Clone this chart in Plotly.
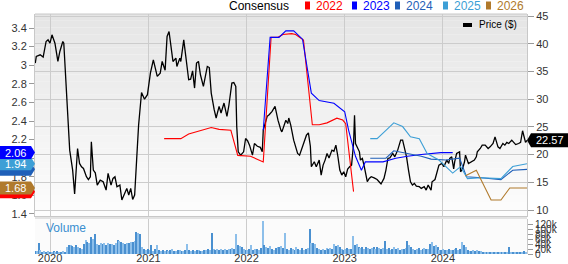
import pandas as pd
import plotly.graph_objects as go

# ---------------- data ----------------
price_t = [2019.85, 2019.86, 2019.90, 2019.93, 2019.96, 2019.98, 2020.00, 2020.02, 2020.05, 2020.08,
           2020.10, 2020.13, 2020.14, 2020.17, 2020.19, 2020.20, 2020.23, 2020.25, 2020.28, 2020.30,
           2020.32, 2020.34, 2020.37, 2020.39, 2020.41, 2020.42, 2020.44, 2020.46, 2020.48, 2020.51,
           2020.54, 2020.57, 2020.59, 2020.62, 2020.64, 2020.66, 2020.68, 2020.71, 2020.73, 2020.76,
           2020.78, 2020.80, 2020.82, 2020.84, 2020.86, 2020.88, 2020.90, 2020.93, 2020.96, 2020.99,
           2021.02, 2021.05, 2021.09, 2021.12, 2021.14, 2021.17, 2021.19, 2021.21, 2021.23, 2021.25,
           2021.28, 2021.29, 2021.32, 2021.33, 2021.36, 2021.38, 2021.41, 2021.43, 2021.45, 2021.47,
           2021.49, 2021.51, 2021.53, 2021.56, 2021.60, 2021.62, 2021.64, 2021.67, 2021.69, 2021.72,
           2021.74, 2021.77, 2021.80, 2021.82, 2021.85, 2021.87, 2021.89, 2021.90, 2021.915, 2021.94,
           2021.97, 2021.99, 2022.01, 2022.03, 2022.06, 2022.08, 2022.11, 2022.14, 2022.16, 2022.17,
           2022.21, 2022.23, 2022.26, 2022.29, 2022.31, 2022.32, 2022.35, 2022.36, 2022.40, 2022.42,
           2022.43, 2022.45, 2022.48, 2022.50, 2022.52, 2022.54, 2022.57, 2022.59, 2022.61, 2022.63,
           2022.65, 2022.66, 2022.69, 2022.71, 2022.74, 2022.76, 2022.78, 2022.80, 2022.82, 2022.84,
           2022.87, 2022.89, 2022.91, 2022.93, 2022.95, 2022.97, 2022.99, 2023.01, 2023.03, 2023.05,
           2023.07, 2023.09, 2023.10, 2023.11, 2023.13, 2023.15, 2023.16, 2023.18, 2023.20, 2023.21,
           2023.23, 2023.25, 2023.27, 2023.30, 2023.33, 2023.35, 2023.37, 2023.40, 2023.42, 2023.44,
           2023.46, 2023.49, 2023.51, 2023.54, 2023.57, 2023.59, 2023.61, 2023.63, 2023.65, 2023.66,
           2023.67, 2023.69, 2023.71, 2023.73, 2023.76, 2023.78, 2023.81, 2023.83, 2023.85, 2023.88,
           2023.89, 2023.92, 2023.94, 2023.96, 2023.99, 2024.01, 2024.04, 2024.06, 2024.07, 2024.09,
           2024.11, 2024.12, 2024.14, 2024.17, 2024.18, 2024.20, 2024.22, 2024.23, 2024.26, 2024.29,
           2024.32, 2024.34, 2024.35, 2024.38, 2024.40, 2024.43, 2024.46, 2024.48, 2024.51, 2024.53,
           2024.56, 2024.58, 2024.61, 2024.63, 2024.65, 2024.67, 2024.70, 2024.72, 2024.74, 2024.77,
           2024.79, 2024.81, 2024.84, 2024.855]
price_v = [36.5, 37.7, 38.0, 37.6, 40.4, 40.7, 40.1, 41.6, 40.1, 36.8,
           38.6, 40.4, 40.1, 29.9, 25.3, 20.8, 17.2, 12.9, 21.1, 18.4,
           17.8, 17.5, 16.0, 15.5, 16.0, 22.3, 17.2, 16.7, 14.5, 15.4,
           15.1, 13.6, 16.6, 14.5, 15.7, 16.0, 14.2, 14.5, 11.8, 13.3,
           13.9, 12.7, 13.9, 11.9, 12.7, 19.0, 25.3, 31.2, 30.0, 30.8,
           34.7, 37.1, 34.1, 34.7, 36.8, 35.2, 41.3, 42.2, 38.9, 36.8,
           37.4, 35.9, 37.4, 36.8, 40.7, 37.8, 33.5, 33.6, 35.1, 32.0,
           36.5, 36.8, 34.4, 32.3, 35.9, 35.7, 31.1, 28.1, 26.6, 28.7,
           27.5, 29.3, 26.9, 28.9, 32.9, 33.0, 32.3, 25.0, 20.5, 19.9,
           20.5, 22.9, 22.5, 21.7, 19.9, 22.0, 21.5, 21.3, 20.5, 24.4,
           26.9, 27.2, 27.8, 28.7, 26.9, 26.2, 24.4, 24.1, 26.2, 25.6,
           26.6, 25.3, 22.6, 21.4, 20.2, 19.9, 21.4, 22.6, 23.5, 23.9,
           21.5, 17.8, 18.7, 17.8, 19.0, 16.3, 18.1, 19.0, 20.2, 19.4,
           20.8, 20.6, 21.7, 19.7, 17.2, 16.3, 16.9, 16.0, 17.4, 17.8,
           18.1, 22.0, 27.1, 22.0, 21.3, 20.5, 19.0, 19.3, 17.8, 17.0,
           15.1, 15.7, 16.0, 15.8, 15.5, 15.1, 14.7, 15.7, 17.2, 19.3,
           19.4, 20.2, 19.6, 20.8, 22.6, 22.6, 21.1, 19.6, 17.2, 15.7,
           15.1, 14.5, 14.8, 14.3, 14.2, 13.9, 14.2, 13.6, 14.5, 13.6,
           15.1, 15.5, 16.6, 18.1, 18.4, 17.8, 19.0, 18.4, 19.3, 19.6,
           17.4, 18.7, 20.2, 20.5, 16.9, 17.4, 18.7, 19.9, 18.4, 18.7,
           19.0, 19.6, 20.5, 21.1, 21.7, 21.7, 21.1, 21.4, 22.0, 23.2,
           21.4, 21.1, 22.0, 21.7, 22.2, 22.0, 22.6, 22.2, 21.8, 22.0,
           22.2, 24.3, 22.2, 22.57]

cons_2022_t = [2021.16, 2021.33, 2021.41, 2021.53, 2021.64, 2021.72, 2021.84, 2021.91, 2022.04, 2022.17,
               2022.25, 2022.32, 2022.37, 2022.46, 2022.50, 2022.58, 2022.67, 2022.74, 2022.82, 2022.92,
               2022.98, 2023.01, 2023.08, 2023.09]
cons_2022_v = [2.21, 2.21, 2.26, 2.30, 2.33, 2.31, 2.30, 2.03, 2.02, 1.96,
               3.30, 3.30, 3.33, 3.34, 3.33, 3.27, 2.36, 2.36, 2.38, 2.43,
               2.41, 2.37, 1.77, 1.64]
cons_2023_t = [2022.17, 2022.24, 2022.33, 2022.40, 2022.48, 2022.57, 2022.66, 2022.74, 2022.89, 2023.00,
               2023.04, 2023.11, 2023.17, 2023.21, 2023.39, 2023.52, 2023.64, 2023.78, 2023.98, 2024.10]
cons_2023_v = [2.30, 3.30, 3.30, 3.37, 3.37, 3.28, 2.70, 2.62, 2.59, 2.50,
               2.30, 2.02, 1.87, 1.96, 1.96, 2.00, 2.02, 2.04, 2.06, 2.06]
cons_2024_t = [2023.26, 2023.42, 2023.50, 2023.64, 2023.78, 2023.88, 2024.03, 2024.17, 2024.24, 2024.39,
               2024.59, 2024.71, 2024.855]
cons_2024_v = [2.00, 2.00, 2.08, 2.05, 2.02, 1.99, 1.98, 2.00, 1.80, 1.79,
               1.77, 1.87, 1.88]
cons_2025_t = [2023.26, 2023.33, 2023.42, 2023.50, 2023.59, 2023.67, 2023.76, 2023.84, 2023.96, 2024.10,
               2024.18, 2024.25, 2024.39, 2024.59, 2024.71, 2024.855]
cons_2025_v = [2.21, 2.21, 2.30, 2.38, 2.34, 2.23, 2.21, 2.05, 1.98, 1.84,
               1.91, 1.78, 1.79, 1.78, 1.91, 1.94]
cons_2026_t = [2024.23, 2024.34, 2024.49, 2024.59, 2024.68, 2024.855]
cons_2026_v = [1.81, 1.87, 1.55, 1.55, 1.68, 1.68]

volume_start = "2019-11-06"
volume_k = [14, 12, 45, 15, 10, 12, 9, 11,
            10, 8, 14, 9, 12, 10, 8, 11, 9,
            30, 35, 37, 32,
            28, 36, 30, 25, 22, 40,
            55, 50, 45, 68, 60, 79,
            42, 38, 45, 40, 44, 38, 45, 42, 40, 36, 44,
            55, 52, 48,
            45, 40, 46, 44, 50, 48, 52,
            88, 85, 79,
            28, 22, 18, 20,
            15, 38, 14, 20, 37, 16, 14, 18, 12, 15, 13, 16, 20, 14, 12, 15, 18, 14, 12, 16,
            41,
            18, 14, 16, 12, 15, 17, 14, 13, 16, 15, 20, 18,
            86,
            22, 18, 20, 16, 21, 18, 19, 17, 22, 20, 24, 20,
            79,
            38, 32, 28,
            20, 18, 16, 22, 35, 18, 20, 22, 17, 24,
            132,
            38, 28, 24, 32, 20, 18, 26, 30, 28, 33, 25,
            85,
            22, 18, 25, 20, 15, 30, 22, 18, 24, 16, 20, 26,
            100,
            45, 44, 40,
            25, 20, 18, 22, 16, 24, 20, 26, 22,
            41,
            32, 35, 28, 22, 18, 20, 24, 22, 20,
            72,
            35, 40, 30, 25, 28, 22, 30, 26, 20, 24, 28, 22, 30, 25, 20, 24,
            52,
            20, 25, 18, 22, 28, 20, 24, 18, 22, 20, 26,
            52,
            35, 30, 20, 18, 22, 23, 17, 20, 24, 22, 20,
            41, 48,
            32, 38, 30, 18, 15, 20, 17, 16, 20, 18, 15, 22, 25, 18, 20,
            48,
            35, 30, 15, 12, 14, 16, 13, 15, 12, 14,
            7, 8, 6, 7, 8, 7, 6, 9, 7, 8, 6, 7, 8, 7,
            27,
            9, 8, 10, 8, 9, 10, 8, 12, 10]

left_ticks = [1.4, 1.6, 1.8, 2.0, 2.2, 2.4, 2.6, 2.8, 3.0, 3.2, 3.4]
left_tick_text = ["1.4", "1.6", "1.8", "2", "2.2", "2.4", "2.6", "2.8", "3", "3.2", "3.4"]
right_ticks = [10, 15, 20, 25, 30, 35, 40, 45]
vol_ticks = [0, 20000, 40000, 60000, 80000, 100000, 120000]
vol_tick_text = ["0", "20k", "40k", "60k", "80k", "100k", "120k"]
years = ["2022", "2023", "2024", "2025", "2026"]
colors = {"2022": "#ff0000", "2023": "#0000ff", "2024": "#1f5fb8",
          "2025": "#3d9fd6", "2026": "#b07a2c"}

# ---------------- helpers ----------------
def dy(t):
    y = int(t)
    a = pd.Timestamp(year=y, month=1, day=1)
    b = pd.Timestamp(year=y + 1, month=1, day=1)
    return a + (b - a) * (t - y)

def dates(ts):
    return [dy(t) for t in ts]

W, H = 568, 264
L, R, T, B = 35, 41, 14, 10
PW, PH = W - L - R, H - T - B
def px(x):  # pixel -> paper x
    return (x - L) / PW
def py(y):  # pixel -> paper y
    return (H - B - y) / PH

price_bottom_px = 216
vol_top_px = 219
dom_price = [py(price_bottom_px), 1]
dom_vol = [0, py(vol_top_px)]

fig = go.Figure()

# price line (right axis)
fig.add_trace(go.Scatter(x=dates(price_t), y=price_v, mode="lines",
                         line=dict(color="#000000", width=1.3),
                         xaxis="x", yaxis="y", showlegend=False))

cons = {"2022": (cons_2022_t, cons_2022_v), "2023": (cons_2023_t, cons_2023_v),
        "2024": (cons_2024_t, cons_2024_v), "2025": (cons_2025_t, cons_2025_v),
        "2026": (cons_2026_t, cons_2026_v)}
for yr in years:
    t, v = cons[yr]
    fig.add_trace(go.Scatter(x=dates(t), y=v, mode="lines",
                             line=dict(color=colors[yr], width=1.1),
                             xaxis="x", yaxis="y2", showlegend=False))

vol_dates = pd.date_range(volume_start, periods=len(volume_k), freq="7D")
bar_colors = ["#8dbfea" if i % 2 else "#4a90d0" for i in range(len(volume_k))]
fig.add_trace(go.Bar(x=vol_dates, y=[v * 1000 for v in volume_k],
                     marker=dict(color=bar_colors, line=dict(width=0)),
                     width=5 * 24 * 3600 * 1000,
                     xaxis="x2", yaxis="y3", showlegend=False))

x_range = [dy(2019.847), dy(2024.855)]
grid = "#cccccc"
font = "Liberation Sans, Arial, sans-serif"

shapes = []
# gradient background for the price pane
n = 30
top_c, bot_c = 229, 253
for i in range(n):
    y0 = dom_price[0] + (dom_price[1] - dom_price[0]) * i / n
    y1 = dom_price[0] + (dom_price[1] - dom_price[0]) * (i + 1) / n
    c = int(round(bot_c + (top_c - bot_c) * (i + 0.5) / n))
    shapes.append(dict(type="rect", xref="paper", yref="paper", x0=0, x1=1, y0=y0, y1=y1,
                       fillcolor=f"rgb({c},{c},{c})", line=dict(width=0), layer="below"))
# volume pane background
shapes.append(dict(type="rect", xref="paper", yref="paper", x0=0, x1=1, y0=0, y1=dom_vol[1],
                   fillcolor="#fbfbfb", line=dict(width=0), layer="below"))
# separator band
shapes.append(dict(type="rect", xref="paper", yref="paper", x0=0, x1=1,
                   y0=dom_vol[1], y1=dom_price[0],
                   fillcolor="#e2e2e2", line=dict(width=0), layer="below"))
# top border
shapes.append(dict(type="line", xref="paper", yref="paper", x0=0, x1=1, y0=1, y1=1,
                   line=dict(color="#c8c8c8", width=1)))

annotations = []
# left-side badges for the last consensus values
left_axis_px_per_unit = 93.0
half_h = 6.5 / left_axis_px_per_unit
bx0, bx1, btip = px(0), px(31), px(35)
for yr in ["2022", "2026", "2024", "2025", "2023"]:
    v = cons[yr][1][-1]
    path = (f"M {bx0},{v - half_h} L {bx1},{v - half_h} L {btip},{v} "
            f"L {bx1},{v + half_h} L {bx0},{v + half_h} Z")
    shapes.append(dict(type="path", xref="paper", yref="y2", path=path,
                       fillcolor=colors[yr], line=dict(width=0), layer="above"))
    if yr in ("2023", "2025", "2026"):
        annotations.append(dict(x=px(15), y=v, xref="paper", yref="y2", text=f"{v:.2f}",
                                showarrow=False, font=dict(color="white", size=11, family=font),
                                xanchor="center", yanchor="middle"))

# right-side price badge
last_p = price_v[-1]
ph = 7.0 / 5.543
shapes.append(dict(type="path", xref="paper", yref="y",
                   path=(f"M {px(527)},{last_p} L {px(531)},{last_p + ph} L {px(568)},{last_p + ph} "
                         f"L {px(568)},{last_p - ph} L {px(531)},{last_p - ph} Z"),
                   fillcolor="#000000", line=dict(width=0), layer="above"))
annotations.append(dict(x=px(550), y=last_p, xref="paper", yref="y", text=f"{last_p:.2f}",
                        showarrow=False, font=dict(color="white", size=11, family=font),
                        xanchor="center", yanchor="middle"))

# top legend
ly = py(5.5)
annotations.append(dict(x=px(291), y=ly, xref="paper", yref="paper", text="Consensus",
                        showarrow=False, xanchor="right", yanchor="middle",
                        font=dict(color="#000000", size=12, family=font)))
sq_x = {"2022": 305, "2023": 352, "2024": 395, "2025": 443, "2026": 486}
for yr in years:
    x0 = sq_x[yr]
    shapes.append(dict(type="rect", xref="paper", yref="paper", x0=px(x0), x1=px(x0 + 5),
                       y0=py(9.5), y1=py(1.5), fillcolor=colors[yr], line=dict(width=0)))
    annotations.append(dict(x=px(x0 + 9), y=ly, xref="paper", yref="paper", text=yr,
                            showarrow=False, xanchor="left", yanchor="middle",
                            font=dict(color=colors[yr], size=12, family=font)))

# price legend inside plot
shapes.append(dict(type="rect", xref="paper", yref="paper", x0=px(463), x1=px(472),
                   y0=py(27), y1=py(23), fillcolor="#000000", line=dict(width=0)))
annotations.append(dict(x=px(477), y=py(25), xref="paper", yref="paper", text="Price ($)",
                        showarrow=False, xanchor="left", yanchor="middle",
                        font=dict(color="#000000", size=10, family=font)))
# volume label
annotations.append(dict(x=px(44), y=py(228), xref="paper", yref="paper", text="Volume",
                        showarrow=False, xanchor="left", yanchor="middle",
                        font=dict(color="#3a8fd0", size=12, family=font)))

fig.update_layout(
    width=W, height=H, margin=dict(l=L, r=R, t=T, b=B, autoexpand=False),
    paper_bgcolor="white", plot_bgcolor="rgba(0,0,0,0)",
    font=dict(family=font), showlegend=False, hovermode=False, bargap=0,
    xaxis=dict(domain=[0, 1], anchor="y", range=x_range, type="date", automargin=False,
               showticklabels=False, showgrid=True, gridcolor=grid, gridwidth=1,
               dtick="M12", tick0="2020-01-01", ticks="", zeroline=False,
               showline=True, linecolor="#c8c8c8", mirror=False),
    xaxis2=dict(domain=[0, 1], anchor="y3", range=x_range, type="date", matches="x",
                automargin=False, ticklabelstandoff=-4,
                showgrid=True, gridcolor=grid, gridwidth=1, dtick="M12", tick0="2020-01-01",
                tickformat="%Y", ticks="", showline=False, zeroline=False,
                tickfont=dict(size=11, color="#333333", family=font)),
    yaxis=dict(domain=dom_price, anchor="x", side="right", range=[8.92, 45.36],
               automargin=False,
               tickvals=right_ticks, showgrid=True, gridcolor=grid, gridwidth=1,
               ticks="outside", ticklen=6, tickcolor="#999999", zeroline=False,
               showline=True, linecolor="#c8c8c8",
               tickfont=dict(size=11, color="#333333", family=font)),
    yaxis2=dict(domain=dom_price, anchor="x", overlaying="y", side="left",
                automargin=False,
                range=[1.378, 3.551], tickvals=left_ticks, ticktext=left_tick_text,
                showgrid=False, ticks="outside", ticklen=5, tickcolor="#999999",
                zeroline=False, showline=True, linecolor="#c8c8c8",
                tickfont=dict(size=11, color="#333333", family=font)),
    yaxis3=dict(domain=dom_vol, anchor="x2", side="right", range=[0, 140000],
                automargin=False,
                tickvals=vol_ticks, ticktext=vol_tick_text, showgrid=False,
                ticks="outside", ticklen=5, tickcolor="#999999", zeroline=False,
                showline=True, linecolor="#c8c8c8",
                tickfont=dict(size=10, color="#333333", family=font)),
    shapes=shapes, annotations=annotations,
)

fig.write_html("out.html", config={"displayModeBar": False})
